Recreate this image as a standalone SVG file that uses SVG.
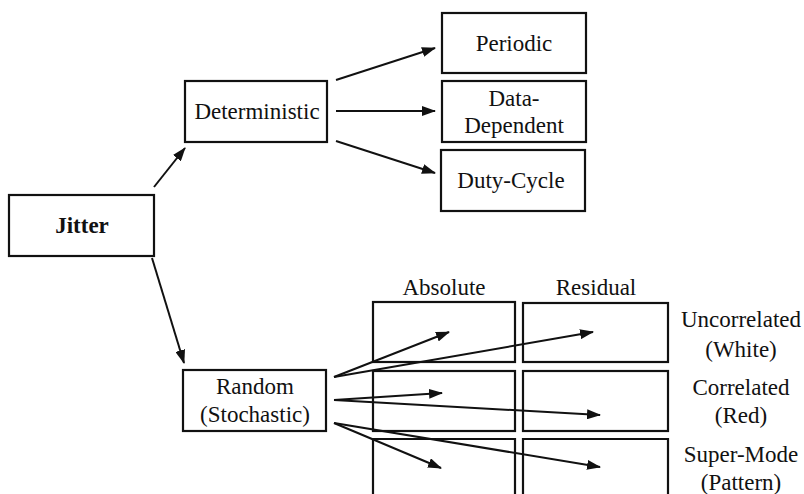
<svg xmlns="http://www.w3.org/2000/svg" width="804" height="494" viewBox="0 0 804 494">
<style>
.box{fill:#fff;stroke:#111;stroke-width:2.2}
.cell{fill:none;stroke:#111;stroke-width:2.2}
text{font-family:'Liberation Serif','DejaVu Serif',serif;font-size:23px;fill:#111;text-anchor:middle}
.b{font-weight:bold}
.c line{stroke:#111;stroke-width:2;marker-end:url(#ah)}
</style>
<defs>
<marker id="ah" markerUnits="userSpaceOnUse" markerWidth="14" markerHeight="10" refX="13" refY="5" orient="auto">
<path d="M0,0 L14,5 L0,10 Z" fill="#111"/>
</marker>
</defs>
<rect width="804" height="494" fill="#fff"/>
<g id="jitter"><rect class="box" x="9" y="195" width="145" height="61"/><text class="b" x="82" y="233">Jitter</text></g>
<g id="deterministic"><rect class="box" x="185" y="81" width="142" height="61"/><text x="257" y="119">Deterministic</text></g>
<g id="periodic"><rect class="box" x="442" y="13" width="144" height="60"/><text x="514" y="51">Periodic</text></g>
<g id="datadep"><rect class="box" x="442" y="81" width="144" height="61"/><text x="514" y="106">Data-</text><text x="514" y="133">Dependent</text></g>
<g id="dutycycle"><rect class="box" x="441" y="150" width="144" height="61"/><text x="511" y="188">Duty-Cycle</text></g>
<g id="random"><rect class="box" x="183" y="370" width="143" height="61"/><text x="255" y="394">Random</text><text x="255" y="422">(Stochastic)</text></g>
<g id="grid">
<text x="444" y="295">Absolute</text>
<text x="596" y="295">Residual</text>
<rect class="cell" x="373" y="302" width="142" height="60"/>
<rect class="cell" x="373" y="371" width="142" height="60"/>
<path class="cell" d="M373,500 V439 H515 V500"/>
<rect class="cell" x="523" y="303" width="145" height="59"/>
<rect class="cell" x="523" y="371" width="145" height="60"/>
<path class="cell" d="M523,500 V439 H668 V500"/>
<text x="741" y="327">Uncorrelated</text>
<text x="741" y="357">(White)</text>
<text x="741" y="395">Correlated</text>
<text x="741" y="423">(Red)</text>
<text x="741" y="462">Super-Mode</text>
<text x="741" y="490">(Pattern)</text>
</g>
<g id="connectors" class="c">
<line x1="154" y1="187" x2="185" y2="148"/>
<line x1="152" y1="258" x2="184" y2="363"/>
<line x1="336" y1="80" x2="435" y2="48"/>
<line x1="336" y1="111" x2="435" y2="111"/>
<line x1="336" y1="141" x2="435" y2="173"/>
<line x1="334" y1="377" x2="449" y2="332"/>
<line x1="334" y1="377" x2="593" y2="332"/>
<line x1="334" y1="400" x2="442" y2="393"/>
<line x1="334" y1="400" x2="600" y2="415"/>
<line x1="334" y1="423" x2="441" y2="468"/>
<line x1="334" y1="423" x2="600" y2="467"/>
</g>
</svg>
